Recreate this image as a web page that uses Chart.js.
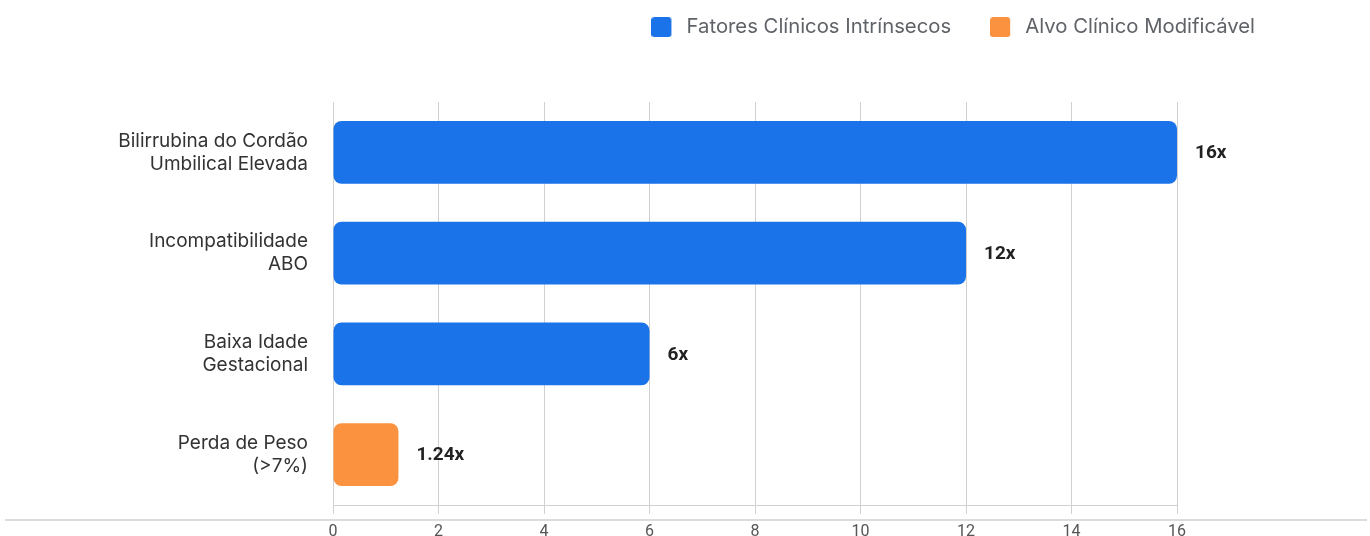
<!DOCTYPE html>
<html>
<head>
<meta charset="utf-8">
<script src="https://cdn.jsdelivr.net/npm/chart.js@4/dist/chart.umd.min.js"></script>
<style>
  html, body { margin: 0; padding: 0; background: #fff; }
  #wrap { width: 1370px; height: 536px; }
</style>
</head>
<body>
<div id="wrap"><canvas id="c"></canvas></div>
<script>
const categories = [
  ["Bilirrubina do Cordão", "Umbilical Elevada"],
  ["Incompatibilidade", "ABO"],
  ["Baixa Idade", "Gestacional"],
  ["Perda de Peso", "(>7%)"]
];
const intrinsicValues = [16, 12, 6, null];
const modifiableValues = [null, null, null, 1.24];
const valueLabels = ["16x", "12x", "6x", "1.24x"];
const seriesNames = ["Fatores Clínicos Intrínsecos", "Alvo Clínico Modificável"];
const xTicks = [0, 2, 4, 6, 8, 10, 12, 14, 16];

const BLUE = '#1a73e8';
const ORANGE = '#fa923f';
const GRID = '#d0d0d0';
const FONT = 'Inter';

// legend swatch: 20x20 rounded square on the left of a 25px wide transparent canvas
function swatch(color) {
  const c = document.createElement('canvas');
  c.width = 25; c.height = 20;
  const g = c.getContext('2d');
  g.fillStyle = color;
  g.beginPath();
  g.roundRect(0, 0, 20, 20, 3);
  g.fill();
  return c;
}

const valueLabelPlugin = {
  id: 'valueLabels',
  afterDatasetsDraw(chart) {
    const ctx = chart.ctx;
    ctx.save();
    ctx.font = 'bold 19px Roboto';
    ctx.fillStyle = '#222';
    ctx.textAlign = 'left';
    ctx.textBaseline = 'middle';
    chart.data.datasets.forEach((ds, di) => {
      const meta = chart.getDatasetMeta(di);
      meta.data.forEach((bar, i) => {
        if (ds.data[i] == null) return;
        ctx.fillText(valueLabels[i], bar.x + 18, bar.y + 1);
      });
    });
    ctx.restore();
  }
};

const baseLinePlugin = {
  id: 'baseLine',
  afterDraw(chart) {
    const ctx = chart.ctx;
    ctx.save();
    ctx.strokeStyle = GRID;
    ctx.lineWidth = 1.5;
    ctx.beginPath();
    ctx.moveTo(5, 520);
    ctx.lineTo(1367, 520);
    ctx.stroke();
    ctx.restore();
  }
};

const legendSpacer = {
  id: 'legendSpacer',
  beforeInit(chart) {
    const fit = chart.legend.fit;
    chart.legend.fit = function () {
      fit.bind(chart.legend)();
      this.height = 124;
    };
  }
};

new Chart(document.getElementById('c'), {
  type: 'bar',
  data: {
    labels: categories,
    datasets: [
      {
        label: seriesNames[0],
        data: intrinsicValues,
        backgroundColor: BLUE,
        borderRadius: 8,
        borderSkipped: false,
        barPercentage: 0.625,
        categoryPercentage: 1
      },
      {
        label: seriesNames[1],
        data: modifiableValues,
        backgroundColor: ORANGE,
        borderRadius: 8,
        borderSkipped: false,
        barPercentage: 0.625,
        categoryPercentage: 1
      }
    ]
  },
  options: {
    indexAxis: 'y',
    responsive: true,
    maintainAspectRatio: false,
    animation: false,
    grouped: false,
    layout: { padding: { top: -22, right: 76, bottom: 0, left: 0 } },
    plugins: {
      legend: {
        position: 'top',
        align: 'end',
        labels: {
          boxWidth: 20,
          boxHeight: 20,
          usePointStyle: true,
          pointStyleWidth: 25,
          padding: 39,
          color: '#5f6368',
          font: { family: FONT, size: 20.3 },
          generateLabels(chart) {
            return chart.data.datasets.map((ds, i) => ({
              text: ds.label,
              fillStyle: ds.backgroundColor,
              strokeStyle: ds.backgroundColor,
              lineWidth: 0,
              pointStyle: swatch(ds.backgroundColor),
              datasetIndex: i,
              fontColor: '#5f6368'
            }));
          }
        }
      },
      tooltip: { enabled: false }
    },
    scales: {
      x: {
        min: 0,
        max: 16,
        afterBuildTicks(scale) {
          scale.ticks = xTicks.map(v => ({ value: v }));
        },
        afterFit(scale) {
          scale.paddingRight = 193;
          scale.height = 31;
        },
        grid: {
          color: GRID,
          lineWidth: 1,
          tickLength: 9,
          drawTicks: true
        },
        border: { display: true, color: GRID, width: 1 },
        ticks: {
          color: '#555',
          padding: 8,
          font: { family: 'Roboto', size: 16 }
        }
      },
      y: {
        afterFit(scale) {
          scale.width = 333;
          scale.paddingTop = 0;
          scale.paddingBottom = 0;
        },
        grid: { display: false },
        border: { display: true, color: GRID, width: 1 },
        ticks: {
          color: '#333',
          padding: 17,
          font: { family: FONT, size: 19, lineHeight: 1.21 }
        }
      }
    }
  },
  plugins: [valueLabelPlugin, baseLinePlugin, legendSpacer]
});
</script>
</body>
</html>
